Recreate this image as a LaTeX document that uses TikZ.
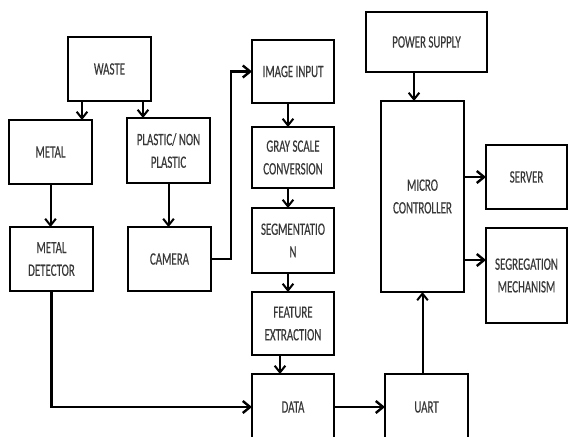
\documentclass[tikz,border=0pt]{standalone}
\usepackage{fontspec}
\setmainfont{Carlito}[FakeStretch=0.63,FakeBold=0.4]
\usetikzlibrary{arrows.meta}
\begin{document}
\begin{tikzpicture}[x=0.75pt,y=-0.75pt,
  box/.style={draw, line width=1.4pt, outer sep=0pt, inner sep=0pt, align=center,
    font=\fontsize{13}{17}\selectfont, text=black!78},
  bx/.style 2 args={minimum width=#1*0.75pt, minimum height=#2*0.75pt},
  arr/.style={line width=1.5pt, -{Straight Barb[length=5pt,width=8pt,line width=1.5pt]}},
  thk/.style={line width=2.2pt, -{Straight Barb[length=5.5pt,width=9pt,line width=1.8pt]}}]
\useasboundingbox (0,0) rectangle (568,436);
\clip (0,0) rectangle (568,436);
% boxes
\node[box,bx={83}{64}] (waste) at (109.5,69) {WASTE};
\node[box,bx={83}{64}] (metal) at (50.5,152) {METAL};
\node[box,bx={83}{65}] (plastic) at (168.5,150.5) {PLASTIC/ NON\\PLASTIC};
\node[box,bx={83}{64}] (detector) at (51.5,259) {METAL\\DETECTOR};
\node[box,bx={83}{64}] (camera) at (169.5,259) {CAMERA};
\node[box,bx={82}{63}] (image) at (293,71.5) {IMAGE INPUT};
\node[box,bx={82}{61}] (gray) at (293,157.5) {GRAY SCALE\\CONVERSION};
\node[box,bx={82}{65}] (seg) at (293,240.5) {SEGMENTATIO\\N};
\node[box,bx={82}{63}] (feature) at (293,323.5) {FEATURE\\EXTRACTION};
\node[box,bx={82}{66}] (data) at (293,407) {DATA};
\node[box,bx={83}{66}] (uart) at (426.5,407) {UART};
\node[box,bx={83}{191}] (micro) at (422.5,196.5) {MICRO\\CONTROLLER};
\node[box,bx={121}{60}] (power) at (426.5,42) {POWER SUPPLY};
\node[box,bx={81}{64}] (server) at (526.5,177) {SERVER};
\node[box,bx={81}{95}] (segreg) at (526.5,275.5) {SEGREGATION\\MECHANISM};
% helper coordinates
\coordinate (xa) at (82,0);
\coordinate (xb) at (143,0);
\coordinate (cb) at (231,0);
\coordinate (xc) at (288,0);
\coordinate (xd) at (280,0);
\coordinate (xp) at (414,0);
\coordinate (ysg) at (0,260);
% connectors
\draw[arr] (waste.south -| xa) -- (metal.north -| xa);
\draw[arr] (waste.south -| xb) -- (plastic.north -| xb);
\draw[arr] (metal.south) -- (metal.south |- detector.north);
\draw[arr] (plastic.south) -- (plastic.south |- camera.north);
\draw[thk] (camera.east) -- (camera.east -| cb) -- (cb |- image.west) -- (image.west);
\draw[arr] (image.south -| xc) -- (gray.north -| xc);
\draw[arr] (gray.south -| xc) -- (seg.north -| xc);
\draw[arr] (seg.south -| xc) -- (feature.north -| xc);
\draw[arr] (feature.south -| xd) -- (data.north -| xd);
\draw[thk] (detector.south) |- (data.west);
\draw[thk] (data.east) -- (uart.west);
\draw[arr] (uart.north -| micro.south) -- (micro.south);
\draw[arr] (power.south -| xp) -- (micro.north -| xp);
\draw[thk] (micro.east |- server.west) -- (server.west);
\draw[thk] (micro.east |- ysg) -- (segreg.west |- ysg);
\end{tikzpicture}
\end{document}
